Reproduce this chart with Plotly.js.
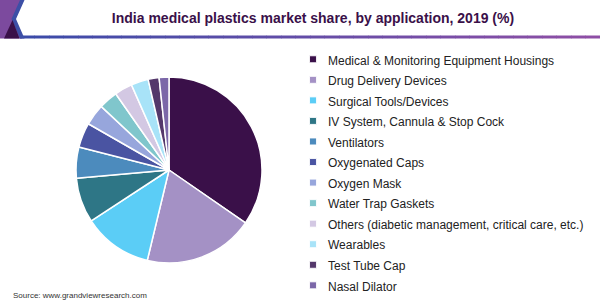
<!DOCTYPE html>
<html>
<head>
<meta charset="utf-8">
<script src="https://cdn.plot.ly/plotly-3.0.1.min.js"></script>
<style>
  html, body { margin: 0; padding: 0; background: #fff; }
  #chart { width: 600px; height: 300px; }
  .legendtext { font-size: 12px !important; }
  .legendpie { transform: translate(25px, 0px) scale(0.58); }
</style>
</head>
<body>
<div id="chart"></div>
<script>
const categories = [
  "Medical & Monitoring Equipment Housings",
  "Drug Delivery Devices",
  "Surgical Tools/Devices",
  "IV System, Cannula & Stop Cock",
  "Ventilators",
  "Oxygenated Caps",
  "Oxygen Mask",
  "Water Trap Gaskets",
  "Others (diabetic management, critical care, etc.)",
  "Wearables",
  "Test Tube Cap",
  "Nasal Dilator"
];
const shares = [34.6, 19.1, 12.0, 7.8, 5.4, 4.3, 3.7, 3.3, 3.1, 3.0, 1.9, 1.7];
const colors = ["#3a1049", "#a491c5", "#5bcdf6", "#2e7686", "#4c8bbd", "#4a54a2",
                "#97a6dc", "#80c6cc", "#d3c8e3", "#a8e3f8", "#54386b", "#7b67a8"];
const chartTitle = "India medical plastics market share, by application, 2019 (%)";
const sourceText = "Source: www.grandviewresearch.com";

const W = 600, H = 300;
const px = x => x / W;
const py = y => 1 - y / H;

const trace = {
  type: "pie",
  labels: categories,
  values: shares,
  sort: false,
  direction: "clockwise",
  rotation: 0,
  textinfo: "none",
  hoverinfo: "none",
  marker: { colors: colors, line: { color: "#ffffff", width: 1.5 } },
  domain: { x: [px(169 - 93), px(169 + 93)], y: [py(170 + 93), py(170 - 93)] }
};

// header underline with gradient (stepped)
const shapes = [];
const steps = 40;
const c0 = [0x3b, 0x4b, 0xa8], c1 = [0x8e, 0x4e, 0xa5];
for (let i = 0; i < steps; i++) {
  const t = i / (steps - 1);
  const c = c0.map((v, k) => Math.round(v + (c1[k] - v) * t));
  const x0 = 20 + (580 * i) / steps, x1 = 20 + (580 * (i + 1)) / steps + 0.5;
  shapes.push({
    type: "rect", xref: "paper", yref: "paper",
    x0: px(x0), x1: px(x1), y0: py(38.5), y1: py(35.5),
    fillcolor: `rgb(${c[0]},${c[1]},${c[2]})`, line: { width: 0 }, layer: "below"
  });
}
// left corner decoration
const pathPx = pts => pts.map((p, i) => (i ? "L" : "M") + px(p[0]) + "," + py(p[1])).join(" ") + " Z";
shapes.push({ type: "path", xref: "paper", yref: "paper",
  path: pathPx([[0, 0], [22, 0], [14, 19], [22, 38.5], [0, 38.5]]),
  fillcolor: "#7c4a9e", line: { width: 0 } });
shapes.push({ type: "path", xref: "paper", yref: "paper",
  path: pathPx([[20, 0], [24.5, 0], [16, 19], [24.5, 38.5], [20, 38.5], [11.5, 19]]),
  fillcolor: "#3d4fa6", line: { width: 0 } });
shapes.push({ type: "path", xref: "paper", yref: "paper",
  path: pathPx([[12.5, 20], [19.5, 38.5], [4, 38.5]]),
  fillcolor: "#3a1049", line: { width: 0 } });

const layout = {
  width: W, height: H,
  margin: { l: 0, r: 0, t: 0, b: 0, autoexpand: false },
  paper_bgcolor: "#ffffff",
  showlegend: true,
  title: {
    text: "<b>" + chartTitle + "</b>",
    font: { family: "Liberation Sans, Arial, sans-serif", size: 14, color: "#3a1049" },
    x: px(313), xanchor: "center", y: py(18), yanchor: "middle", xref: "paper", yref: "paper"
  },
  legend: {
    x: px(288), xanchor: "left", y: py(44), yanchor: "top",
    font: { family: "Liberation Sans, Arial, sans-serif", size: 13.5, color: "#222222" },
    bgcolor: "rgba(0,0,0,0)", traceorder: "normal", itemclick: false, itemdoubleclick: false
  },
  shapes: shapes,
  annotations: [{
    text: sourceText, xref: "paper", yref: "paper", x: px(11), y: py(295),
    xanchor: "left", yanchor: "middle", showarrow: false,
    font: { family: "Liberation Sans, Arial, sans-serif", size: 8, color: "#333333" }
  }]
};

Plotly.newPlot("chart", [trace], layout, { staticPlot: true, displayModeBar: false });
</script>
</body>
</html>
